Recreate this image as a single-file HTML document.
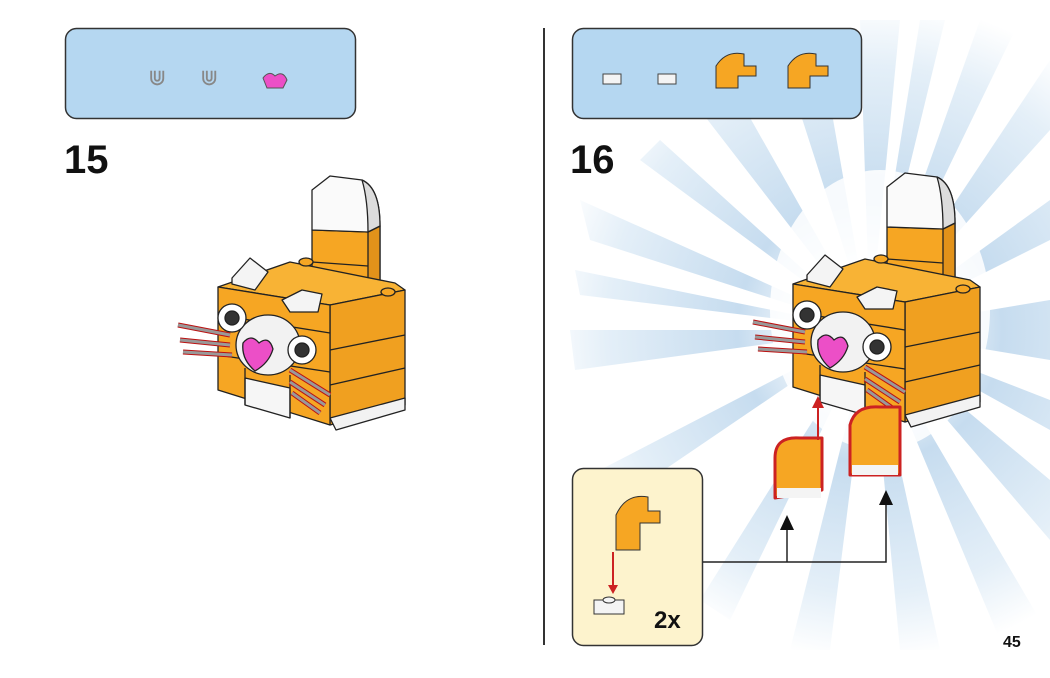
<!DOCTYPE html>
<html><head><meta charset="utf-8"><style>
html,body{margin:0;padding:0;background:#fff;}
body{width:1050px;height:673px;overflow:hidden;position:relative;font-family:"Liberation Sans",sans-serif;}
</style></head><body>
<svg width="1050" height="673" viewBox="0 0 1050 673" xmlns="http://www.w3.org/2000/svg">
<defs>
<radialGradient id="rg" cx="870" cy="330" r="330" gradientUnits="userSpaceOnUse">
<stop offset="0.15" stop-color="#ffffff"/>
<stop offset="0.4" stop-color="#c6dcef"/>
<stop offset="0.8" stop-color="#e4eff8"/>
<stop offset="1" stop-color="#ffffff"/>
</radialGradient>
<g id="cat" stroke="#222" stroke-width="1.3" stroke-linejoin="round">
 <polygon points="312,230 368,232 380,226 380,290 368,300 312,300" fill="#f6a623"/>
 <polygon points="368,232 380,226 380,290 368,300" fill="#e2921a"/>
 <path d="M312,230 L312,190 L330,176 L362,180 Q380,188 380,226 L368,232 Z" fill="#fafafa"/>
 <path d="M362,180 Q380,188 380,226 L368,232 Q368,200 362,180" fill="#dcdcdc"/>
 <line x1="312" y1="262" x2="368" y2="266"/>
 <polygon points="218,287 290,262 395,283 405,290 330,305" fill="#f8b335"/>
 <polygon points="330,305 405,290 405,405 330,425" fill="#f0a020"/>
 <polygon points="330,418 405,398 405,410 336,430" fill="#f2f2f2"/>
 <line x1="330" y1="350" x2="405" y2="335"/>
 <line x1="330" y1="385" x2="405" y2="368"/>
 <polygon points="218,287 330,305 330,425 218,390" fill="#f6a623"/>
 <polygon points="245,378 290,388 290,418 245,405" fill="#f6f6f6"/>
 <line x1="218" y1="315" x2="330" y2="333"/>
 <line x1="218" y1="355" x2="330" y2="372"/>
 <line x1="245" y1="368" x2="245" y2="405"/>
 <line x1="290" y1="375" x2="290" y2="418"/>
 <polygon points="232,278 250,258 268,272 255,290 232,284" fill="#f4f4f4"/>
 <polygon points="282,300 302,290 322,294 318,312 290,312" fill="#f4f4f4"/>
 <ellipse cx="306" cy="262" rx="7" ry="4" fill="#f6a623"/>
 <ellipse cx="388" cy="292" rx="7" ry="4" fill="#f6a623"/>
 <ellipse cx="268" cy="345" rx="32" ry="30" fill="#f2f2f2"/>
 <circle cx="232" cy="318" r="14" fill="#fff"/><circle cx="232" cy="318" r="7" fill="#333"/>
 <circle cx="302" cy="350" r="14" fill="#fff"/><circle cx="302" cy="350" r="7" fill="#333"/>
 <path d="M243,343 q8,-10 16,0 q10,-8 14,6 q-4,14 -18,22 q-14,-12 -12,-28z" fill="#ec4fc7"/>
 <g stroke="#b11" stroke-width="5" fill="none"><path d="M178,325 L230,335 M180,340 L230,345 M183,352 L232,355"/><path d="M290,370 L330,395 M290,382 L325,405 M292,393 L320,413"/></g>
 <g stroke="#999" stroke-width="3" fill="none"><path d="M178,325 L230,335 M180,340 L230,345 M183,352 L232,355"/><path d="M290,370 L330,395 M290,382 L325,405 M292,393 L320,413"/></g>
</g>
</defs>
<rect x="65.5" y="28.5" width="290" height="90" rx="11" fill="#b5d7f1" stroke="#333" stroke-width="1.5"/>
<text x="148" y="85" font-size="22" fill="#888">⋓</text>
<text x="200" y="85" font-size="22" fill="#888">⋓</text>
<path d="M263,78 q6,-8 12,-2 q8,-6 12,4 l-4,8 h-16z" fill="#ec4fc7" stroke="#555"/>
<text x="64" y="173" font-size="40" font-weight="bold" fill="#111">15</text>
<use href="#cat"/>
<line x1="544" y1="28" x2="544" y2="645" stroke="#333" stroke-width="2"/>
<g fill="url(#rg)">
<polygon points="870,330 1050,60 1050,130"/>
<polygon points="870,330 980,20 1020,20"/>
<polygon points="870,330 860,20 900,20"/>
<polygon points="870,330 920,20 945,20"/>
<polygon points="870,330 700,110 740,100"/>
<polygon points="870,330 580,200 590,240"/>
<polygon points="870,330 570,330 575,370"/>
<polygon points="870,330 575,270 580,295"/>
<polygon points="870,330 600,470 620,500"/>
<polygon points="870,330 700,600 730,620"/>
<polygon points="870,330 790,650 830,650"/>
<polygon points="870,330 900,650 940,650"/>
<polygon points="870,330 1000,640 1040,620"/>
<polygon points="870,330 1050,480 1050,540"/>
<polygon points="870,330 1050,400 1050,430"/>
<polygon points="870,330 1050,300 1050,360"/>
<polygon points="870,330 1050,200 1050,240"/>
<polygon points="870,330 780,50 820,45"/>
<polygon points="870,330 640,160 660,140"/>
</g>
<rect x="572.5" y="28.5" width="289" height="90" rx="11" fill="#b5d7f1" stroke="#333" stroke-width="1.5"/>
<rect x="603" y="74" width="18" height="10" fill="#f4f4f4" stroke="#444"/>
<rect x="658" y="74" width="18" height="10" fill="#f4f4f4" stroke="#444"/>
<path d="M716,88 v-22 q10,-16 28,-12 v12 h12 v10 h-18 v12z" fill="#f6a623" stroke="#333"/>
<path d="M788,88 v-22 q10,-16 28,-12 v12 h12 v10 h-18 v12z" fill="#f6a623" stroke="#333"/>
<text x="570" y="173" font-size="40" font-weight="bold" fill="#111">16</text>
<ellipse cx="880" cy="310" rx="110" ry="140" fill="#fff" opacity="0.85"/>
<use href="#cat" transform="translate(575,-3)"/>
<g stroke="#c22" stroke-width="3" stroke-linejoin="round">
<path d="M775,498 v-40 q0,-22 25,-20 h22 v52 z" fill="#f6a623"/>
<path d="M850,475 v-50 q5,-20 30,-18 h20 v68 z" fill="#f6a623"/>
</g>
<rect x="777" y="488" width="44" height="10" fill="#f4f4f4"/>
<rect x="852" y="465" width="46" height="10" fill="#f4f4f4"/>
<line x1="818" y1="440" x2="818" y2="405" stroke="#c22" stroke-width="2"/>
<polygon points="812,408 818,396 824,408" fill="#c22"/>
<rect x="572.5" y="468.5" width="130" height="177" rx="11" fill="#fdf3cd" stroke="#333" stroke-width="1.5"/>
<path d="M616,550 v-35 q10,-22 32,-18 v14 h12 v12 h-20 v27z" fill="#f6a623" stroke="#333"/>
<line x1="613" y1="552" x2="613" y2="588" stroke="#c22" stroke-width="2"/>
<polygon points="608,585 613,594 618,585" fill="#c22"/>
<rect x="594" y="600" width="30" height="14" fill="#f4f4f4" stroke="#333"/>
<ellipse cx="609" cy="600" rx="6" ry="3" fill="#f4f4f4" stroke="#333"/>
<text x="654" y="628" font-size="24" font-weight="bold" fill="#111">2x</text>
<polyline points="703,562 886,562 886,505" fill="none" stroke="#222" stroke-width="1.5"/>
<line x1="787" y1="562" x2="787" y2="522" stroke="#222" stroke-width="1.5"/>
<polygon points="780,530 787,515 794,530" fill="#111"/>
<polygon points="879,505 886,490 893,505" fill="#111"/>
<text x="1003" y="647" font-size="16" font-weight="bold" fill="#111">45</text>
</svg>
</body></html>
